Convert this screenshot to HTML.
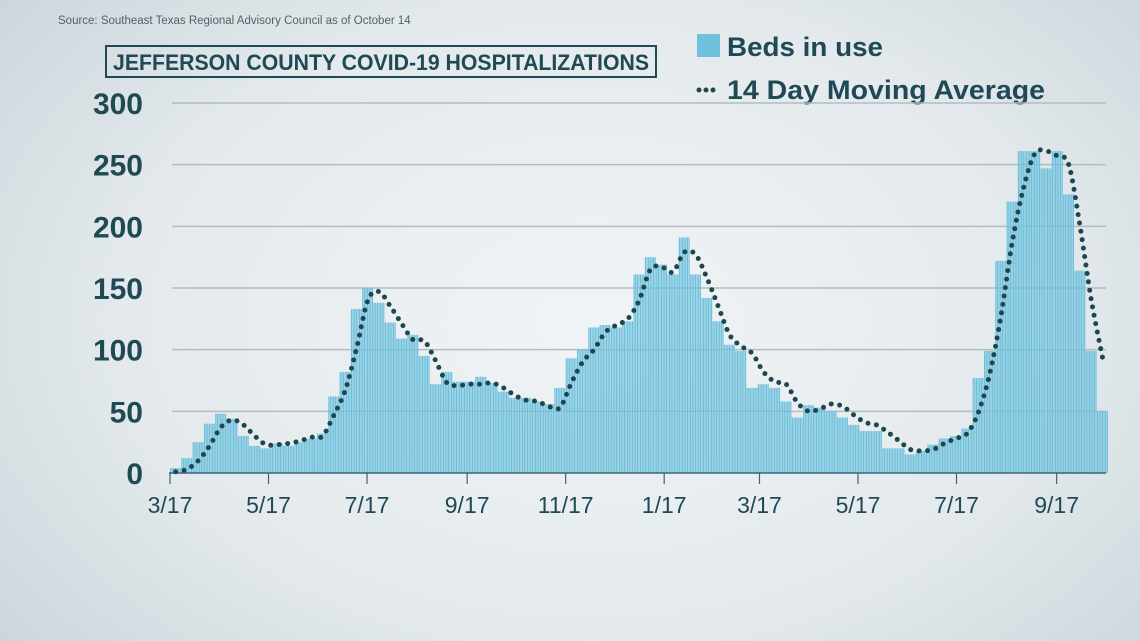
<!DOCTYPE html>
<html><head><meta charset="utf-8">
<style>
html,body{margin:0;padding:0;}
body{width:1140px;height:641px;overflow:hidden;font-family:"Liberation Sans",sans-serif;
background:radial-gradient(ellipse 75% 90% at 52% 50%,#f1f4f6 0%,#e3e9ec 55%,#c4d0d6 100%);}
svg{position:absolute;left:0;top:0;}
</style></head>
<body>
<svg id="chart" width="1140" height="641" viewBox="0 0 1140 641">
  <text x="58" y="24" font-size="11.5" fill="#4f6268">Source: Southeast Texas Regional Advisory Council as of October 14</text>
  <rect x="106" y="46" width="550" height="31" fill="none" stroke="#1f4a55" stroke-width="2"/>
  <text x="113" y="70" font-size="22" font-weight="bold" fill="#1f4a55" textLength="536" lengthAdjust="spacingAndGlyphs">JEFFERSON COUNTY COVID-19 HOSPITALIZATIONS</text>
  <rect x="697" y="34" width="23" height="23" fill="#6fc0dc"/>
  <text x="727" y="56" font-size="27" font-weight="bold" fill="#1f4a55" textLength="156" lengthAdjust="spacingAndGlyphs">Beds in use</text>
  <line x1="699" y1="90" x2="720" y2="90" stroke="#1e4650" stroke-width="5" stroke-linecap="round" stroke-dasharray="0 7"/>
  <text x="727" y="99" font-size="27" font-weight="bold" fill="#1f4a55" textLength="318" lengthAdjust="spacingAndGlyphs">14 Day Moving Average</text>
  <g id="grid"></g>
  <g id="bars"></g>
  <g id="axes"></g>
  <g id="ma"></g>
</svg>
<script>
const yTicks = [0, 50, 100, 150, 200, 250, 300];
const xTickLabels = ["3/17","5/17","7/17","9/17","11/17","1/17","3/17","5/17","7/17","9/17"];
const xTickDays = [0, 61, 122, 184, 245, 306, 365, 426, 487, 549];
// weekly values starting 3/17/2020
const bedsInUse = [4,12,25,40,48,44,30,22,20,24,22,25,28,32,62,82,133,150,138,122,109,112,95,72,82,74,74,78,
73,66,61,61,58,56,69,93,100,118,120,118,123,161,175,169,161,191,161,142,123,104,99,69,72,69,58,45,
55,53,50,45,39,34,34,20,20,15,18,23,28,30,36,77,99,172,220,261,261,247,261,226,164,99,50];
const movingAvg = [1,3,10,22,37,43,39,30,23,23,24,26,29,30,47,67,101,140,147,135,121,108,107,91,73,71,72,72,
73,69,63,59,58,54,53,73,90,100,114,120,125,140,165,167,163,179,177,158,135,112,103,97,82,74,72,57,
50,52,56,54,47,41,39,33,26,19,18,19,24,28,32,49,80,127,187,231,259,261,257,250,200,140,93];

const NS = "http://www.w3.org/2000/svg";
const X0 = 170, PX_PER_DAY = 1.615, Y0 = 473, PX_PER_UNIT = 370/300;
const xDay = d => X0 + d * PX_PER_DAY;
const y = v => Y0 - v * PX_PER_UNIT;
function mk(tag, attrs, parent){const e=document.createElementNS(NS,tag);for(const k in attrs)e.setAttribute(k,attrs[k]);parent.appendChild(e);return e;}

const grid = document.getElementById('grid');
yTicks.forEach(t => {
  if (t > 0) {
    const gl = mk('line',{x1:172,x2:1106,y1:y(t),y2:y(t),stroke:'#b4bcc0','stroke-width':1.5},grid);
    
    
  }
  const tl = mk('text',{x:143,y:y(t)+11,'font-size':30,'font-weight':'bold',fill:'#1f4a55','text-anchor':'end'},grid);
  tl.textContent = t;
  
  
});

const bars = document.getElementById('bars');
bedsInUse.forEach((v,i) => {
  const g = mk('g',{},bars);
  
  
  for (let d=0; d<7; d++) {
    mk('rect',{x:xDay(i*7+d),y:y(v),width:PX_PER_DAY-0.4,height:v*PX_PER_UNIT,fill:'#6cc0dc'},g);
  }
});

const axes = document.getElementById('axes');
const base = mk('line',{x1:169,x2:1106,y1:Y0,y2:Y0,stroke:'#3f6570','stroke-width':1.5},axes);


xTickDays.forEach((d,i) => {
  const tk = mk('line',{x1:xDay(d),x2:xDay(d),y1:Y0,y2:Y0+11,stroke:'#3f6570','stroke-width':1.2},axes);
  
  
  const lb = mk('text',{x:xDay(d),y:513,'font-size':23,fill:'#1f4a55','text-anchor':'middle'},axes);
  lb.textContent = xTickLabels[i];
  
  
});

const pts = movingAvg.map((v,i) => [xDay(i*7+3.5), y(v)]);
let dpath = 'M' + pts[0][0] + ',' + pts[0][1];
for (let i=0;i<pts.length-1;i++){
  const p0=pts[Math.max(0,i-1)],p1=pts[i],p2=pts[i+1],p3=pts[Math.min(pts.length-1,i+2)];
  const c1=[p1[0]+(p2[0]-p0[0])/6,p1[1]+(p2[1]-p0[1])/6];
  const c2=[p2[0]-(p3[0]-p1[0])/6,p2[1]-(p3[1]-p1[1])/6];
  dpath += ' C'+c1[0]+','+c1[1]+' '+c2[0]+','+c2[1]+' '+p2[0]+','+p2[1];
}
const ma = mk('path',{d:dpath,fill:'none',stroke:'#1e4650','stroke-width':5,'stroke-linecap':'round','stroke-dasharray':'0 8.5'},document.getElementById('ma'));


</script>
</body></html>
